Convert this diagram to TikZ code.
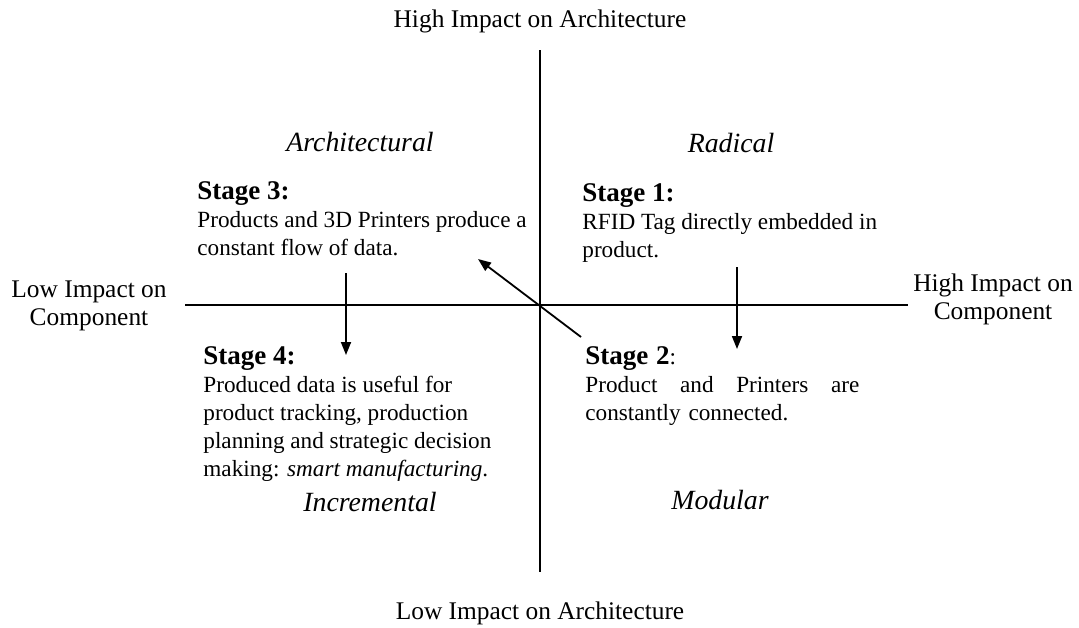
\documentclass[tikz,border=0pt]{standalone}
\usepackage{fontspec}
\setmainfont{Liberation Serif}
\usetikzlibrary{arrows.meta}

\newcommand{\stagehead}[1]{{\fontsize{13.5}{15}\selectfont\bfseries #1}}

\begin{document}
\begin{tikzpicture}[x=0.5pt,y=-0.5pt,
    every node/.style={font=\fontsize{12.7}{14}\selectfont,inner sep=0pt},
    stage/.style={anchor=north west,align=left,font=\fontsize{11.6}{14}\selectfont},
    quadrant/.style={font=\fontsize{13.9}{15}\selectfont\itshape},
    axislabel/.style={align=center},
    axis/.style={line width=1pt},
    arrow/.style={-{Triangle[length=6.5pt,width=5pt]},line width=0.9pt}
]
\useasboundingbox (0,0) rectangle (1079,627);

% Axes
\coordinate (top) at (540,50);
\coordinate (bottom) at (540,572);
\coordinate (left) at (185,305);
\coordinate (right) at (908,305);
\draw[axis] (top) -- (bottom);
\draw[axis] (left) -- (right);

% Axis labels
\node (highA) at (540,21) {High Impact on Architecture};
\node (lowA) at (540,613) {Low Impact on Architecture};
\node[axislabel] (lowC) at (89,306) {Low Impact on\\Component};
\node[axislabel] (highC) at (993,299) {High Impact on\\Component};

% Quadrants
\node[quadrant] (archi) at (360,142) {Architectural};
\node[quadrant] (radical) at (731,143) {Radical};
\node[quadrant] (incr) at (370,502) {Incremental};
\node[quadrant] (modular) at (720,500) {Modular};

% Stages
\node[stage] (stage1) at (582,183) {\stagehead{Stage 1:}\\RFID Tag directly embedded in\\product.};
\node[stage,text width=137pt] (stage2) at (585,346) {\stagehead{Stage 2}:\\Product\hfill and\hfill Printers\hfill are\\constantly connected.};
\node[stage] (stage3) at (197,181) {\stagehead{Stage 3:}\\Products and 3D Printers produce a\\constant flow of data.};
\node[stage] (stage4) at (203,346) {\stagehead{Stage 4:}\\Produced data is useful for\\product tracking, production\\planning and strategic decision\\making: \textit{smart manufacturing}.};

% Transitions
\coordinate (s1tail) at (737,267);
\coordinate (s1tip) at (737,349);
\coordinate (s2tail) at (581,337);
\coordinate (s2tip) at (478,259);
\coordinate (s3tail) at (346,273);
\coordinate (s3tip) at (346,355);
\draw[arrow] (s1tail) -- (s1tip);
\draw[arrow] (s2tail) -- (s2tip);
\draw[arrow] (s3tail) -- (s3tip);

\end{tikzpicture}
\end{document}
